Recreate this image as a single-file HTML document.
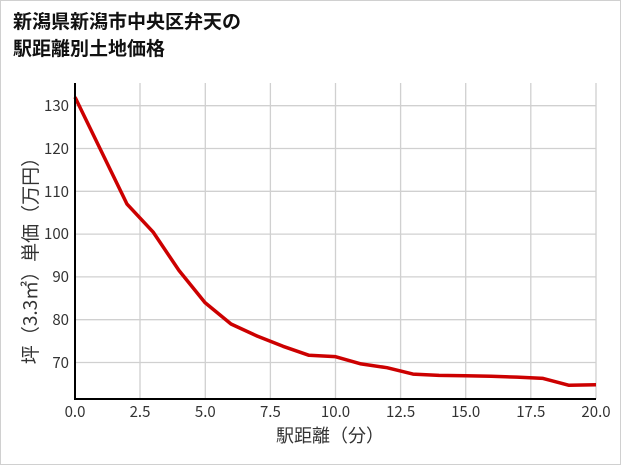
<!DOCTYPE html>
<html><head><meta charset="utf-8"><style>
body{margin:0;background:#fff}
.wrap{position:relative;width:619px;height:463px;border:1px solid #d0d0d0;background:#fff;font-family:"Liberation Sans","Noto Sans CJK JP",sans-serif}
h1{position:absolute;left:12px;top:6px;margin:0;font-size:19px;line-height:27px;font-weight:bold;color:#111;font-family:"Noto Sans CJK JP",sans-serif}
</style></head><body><div class="wrap">
<h1>新潟県新潟市中央区弁天の<br>駅距離別土地価格</h1>
<svg width="621" height="465" style="position:absolute;left:-1px;top:-1px" font-family="Noto Sans CJK JP, sans-serif">
<g stroke="#d0d0d0" stroke-width="1.3">
<line x1="140" y1="83" x2="140" y2="399"/><line x1="205.3" y1="83" x2="205.3" y2="399"/><line x1="270.4" y1="83" x2="270.4" y2="399"/><line x1="335.5" y1="83" x2="335.5" y2="399"/><line x1="400.6" y1="83" x2="400.6" y2="399"/><line x1="465.7" y1="83" x2="465.7" y2="399"/><line x1="530.8" y1="83" x2="530.8" y2="399"/><line x1="596" y1="83" x2="596" y2="399"/>
<line x1="75" y1="105.7" x2="596" y2="105.7"/><line x1="75" y1="148.5" x2="596" y2="148.5"/><line x1="75" y1="191.3" x2="596" y2="191.3"/><line x1="75" y1="234.1" x2="596" y2="234.1"/><line x1="75" y1="276.9" x2="596" y2="276.9"/><line x1="75" y1="319.7" x2="596" y2="319.7"/><line x1="75" y1="362.5" x2="596" y2="362.5"/>
</g>
<g font-size="15" fill="#333" text-anchor="end">
<text x="69" y="111">130</text><text x="69" y="154">120</text><text x="69" y="197">110</text><text x="69" y="239">100</text><text x="69" y="282">90</text><text x="69" y="325">80</text><text x="69" y="368">70</text>
</g>
<g font-size="15" fill="#333" text-anchor="middle">
<text x="75" y="417">0.0</text><text x="140" y="417">2.5</text><text x="205.3" y="417">5.0</text><text x="270.4" y="417">7.5</text><text x="335.5" y="417">10.0</text><text x="400.6" y="417">12.5</text><text x="465.7" y="417">15.0</text><text x="530.8" y="417">17.5</text><text x="596" y="417">20.0</text>
<text x="330" y="442" font-size="18">駅距離（分）</text>
<text transform="translate(37,256) rotate(-90)" font-size="19">坪（3.3㎡）単価（万円）</text>
</g>
<polyline fill="none" stroke="#cc0000" stroke-width="3.5" stroke-linejoin="round" points="75,97.1 101,150.6 127,204.1 153,231.9 179,270.5 205,302.6 231,324 257,336 283,346.3 309,355.3 335,356.6 361,363.9 387,367.7 413,374.1 439,375.4 465,375.8 491,376.3 517,377.1 543,378.4 569,385.3 596,384.8"/>
<line x1="75" y1="83" x2="75" y2="399.5" stroke="#000" stroke-width="2"/>
<line x1="74" y1="399" x2="596" y2="399" stroke="#000" stroke-width="2"/>
</svg></div></body></html>
